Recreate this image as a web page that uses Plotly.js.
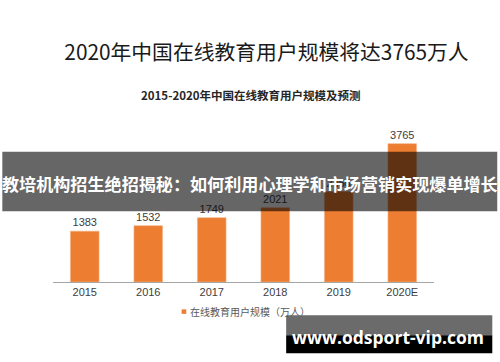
<!DOCTYPE html>
<html>
<head>
<meta charset="utf-8">
<script src="https://cdn.plot.ly/plotly-3.0.1.min.js"></script>
<style>html,body{margin:0;padding:0;background:#fff;}#chart{width:500px;height:362px;}</style>
</head>
<body>
<div id="chart"></div>
<script>
const categories = ['2015', '2016', '2017', '2018', '2019', '2020E'];
const users = [1383, 1532, 1749, 2021, 2460, 3765];
const seriesName = '在线教育用户规模（万人）';
const mainTitle = '2020年中国在线教育用户规模将达3765万人';
const subTitle = '2015-2020年中国在线教育用户规模及预测';
const bannerText = '教培机构招生绝招揭秘：如何利用心理学和市场营销实现爆单增长';
const watermarkText = 'www.odsport-vip.com';

const cjk = '"Noto Sans CJK SC", "Noto Sans", sans-serif';
const arial = '"Liberation Sans", Arial, sans-serif';

const trace = {
  type: 'bar',
  x: categories,
  y: users,
  name: seriesName,
  marker: {color: '#ED7D31', line: {color: '#F4B183', width: 0.6}},
  text: users.map(String),
  textposition: 'outside',
  textfont: {family: arial, size: 11, color: '#404040'},
  cliponaxis: false,
  showlegend: false
};

const layout = {
  width: 500, height: 362,
  margin: {l: 53.3, r: 66.4, t: 135, b: 80.3},
  paper_bgcolor: '#ffffff', plot_bgcolor: '#ffffff',
  bargap: 0.55,
  title: {
    text: mainTitle,
    font: {family: cjk, size: 20.8, color: '#1a1a1a'},
    x: 0.533, xanchor: 'center', xref: 'container',
    y: 1 - 53 / 362, yanchor: 'middle', yref: 'container'
  },
  xaxis: {
    type: 'category', range: [-0.5, 5.5],
    showline: true, linecolor: '#a6a6a6', linewidth: 1,
    ticks: '', showgrid: false, zeroline: false,
    tickfont: {family: arial, size: 11, color: '#404040'},
    fixedrange: true
  },
  yaxis: {
    range: [0, 4000], visible: false, showgrid: false, zeroline: false, fixedrange: true
  },
  shapes: [
    {type: 'rect', xref: 'paper', yref: 'paper', x0: -0.133, x1: 1.166, y0: 0.482, y1: 0.886,
     fillcolor: 'rgba(0,0,0,0.6)', line: {width: 0}, layer: 'above'},
    {type: 'rect', xref: 'paper', yref: 'paper', x0: (181.7 - 53.3) / 380.3, x1: (186.3 - 53.3) / 380.3,
     y0: (281.7 - 313.5) / 146.7, y1: (281.7 - 309) / 146.7,
     fillcolor: '#ED7D31', line: {width: 0}, layer: 'above'},
    {type: 'rect', xref: 'paper', yref: 'paper', x0: 0.612, x1: 1.153, y0: -0.363, y1: -0.227,
     fillcolor: '#6b6b6b', line: {width: 0}, layer: 'above'},
    {type: 'rect', xref: 'paper', yref: 'paper', x0: 0.612, x1: 1.153, y0: -0.484, y1: -0.363,
     fillcolor: '#000000', line: {width: 0}, layer: 'above'}
  ],
  annotations: [
    {text: '<b>' + subTitle + '</b>', xref: 'paper', yref: 'paper', x: 0.52, y: (281.7 - 95) / 146.7,
     xanchor: 'center', yanchor: 'middle', showarrow: false,
     font: {family: cjk, size: 11.5, color: '#262626'}},
    {text: '<b>' + bannerText + '</b>', xref: 'paper', yref: 'paper', x: (250 - 53.3) / 380.3, y: (281.7 - 183) / 146.7,
     xanchor: 'center', yanchor: 'middle', showarrow: false,
     font: {family: cjk, size: 17.1, color: '#ffffff'}},
    {text: seriesName, xref: 'paper', yref: 'paper', x: (188 - 53.3) / 380.3, y: (281.7 - 311.3) / 146.7,
     xanchor: 'left', yanchor: 'middle', showarrow: false,
     font: {family: cjk, size: 10, color: '#595959'}},
    {text: '<b>' + watermarkText + '</b>', xref: 'paper', yref: 'paper', x: (388 - 53.3) / 380.3, y: (281.7 - 337) / 146.7,
     xanchor: 'center', yanchor: 'middle', showarrow: false,
     font: {family: '"Open Sans", "Noto Sans", sans-serif', size: 17.5, color: '#ffffff'}}
  ]
};

Plotly.newPlot('chart', [trace], layout, {displayModeBar: false, staticPlot: true});
</script>
</body>
</html>
